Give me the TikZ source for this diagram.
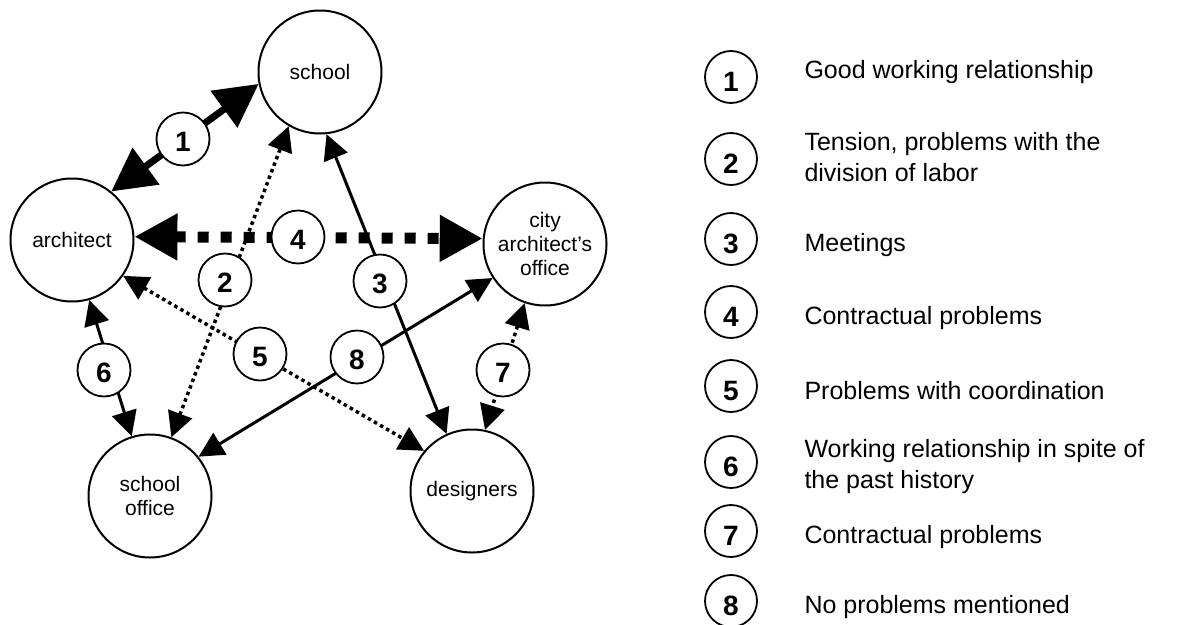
\documentclass[tikz,border=0pt]{standalone}
\usepackage{fontspec}
\setmainfont{Liberation Sans}
\usetikzlibrary{arrows.meta}
\begin{document}
\begin{tikzpicture}[x=1pt,y=-1pt,
  party/.style={circle,draw,line width=2pt,minimum size=123pt,inner sep=0pt,
    align=center,font=\fontsize{21}{24}\selectfont},
  numtag/.style={circle,draw,fill=white,line width=1.8pt,minimum size=53pt,
    inner sep=0pt,text height=24pt,text depth=0pt,
    font=\fontsize{28}{30}\selectfont\bfseries},
  keytag/.style={numtag,minimum size=52pt,text height=28pt},
  keytext/.style={anchor=base west,align=left,font=\fontsize{25}{31}\selectfont},
  bigtip/.tip={Triangle[length=43pt,width=44pt]},
  smalltip/.tip={Triangle[length=25pt,width=25pt]},
  strong/.style={line width=7pt,bigtip-bigtip},
  heavydash/.style={line width=11pt,dash pattern=on 11pt off 12pt,bigtip-bigtip},
  dots/.style={line width=3.5pt,dash pattern=on 3.5pt off 3.5pt,smalltip-smalltip},
  plain/.style={line width=3pt,smalltip-smalltip},
]
\useasboundingbox (0,0) rectangle (1178,624);

% parties
\node[party] (school)    at (320,72)  {school};
\node[party] (arch)      at (72,240)  {architect};
\node[party] (city)      at (545,244) {city\\architect’s\\office};
\node[party] (office)    at (150,496) {school\\office};
\node[party] (designers) at (472,491) {designers};

% relations
\draw[strong]    (arch.51)     -- (school.191);
\draw[heavydash] (arch.3)      -- (city.175);
\draw[dots]      (office.70)   -- (school.240);
\draw[plain]     (designers.114) -- (school.276);
\draw[dots]      (arch.-35)    -- (designers.140);
\draw[plain]     (arch.-74)    -- (office.107);
\draw[dots]      (city.251)    -- (designers.78);
\draw[plain]     (office.39.5) -- (city.213);

% relation numbers
\node[numtag] (n1) at (183,139) {1};
\node[numtag] (n2) at (225,280) {2};
\node[numtag] (n3) at (380,281) {3};
\node[numtag] (n4) at (298,237) {4};
\node[numtag] (n5) at (260,354) {5};
\node[numtag] (n6) at (104,370) {6};
\node[numtag] (n7) at (503,370) {7};
\node[numtag] (n8) at (357,357) {8};

% key
\node[keytag] (k1) at (731,77)  {1};
\node[keytag] (k2) at (731,159) {2};
\node[keytag] (k3) at (731,239) {3};
\node[keytag] (k4) at (731,312) {4};
\node[keytag] (k5) at (731,386) {5};
\node[keytag] (k6) at (731,462) {6};
\node[keytag] (k7) at (731,531) {7};
\node[keytag] (k8) at (731,601) {8};

\node[keytext] (t1) at (801,78)  {Good working relationship};
\node[keytext] (t2) at (801,181) {Tension, problems with the\\division of labor};
\node[keytext] (t3) at (801,251) {Meetings};
\node[keytext] (t4) at (801,324) {Contractual problems};
\node[keytext] (t5) at (801,399) {Problems with coordination};
\node[keytext] (t6) at (801,488) {Working relationship in spite of\\the past history};
\node[keytext] (t7) at (801,543) {Contractual problems};
\node[keytext] (t8) at (801,613) {No problems mentioned};
\end{tikzpicture}
\end{document}
